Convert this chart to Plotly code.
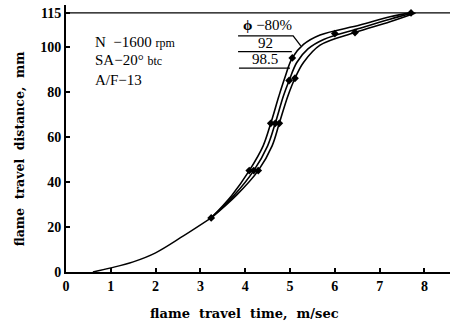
import plotly.graph_objects as go

# Shared early-burn portion of the flame travel curve (time, distance)
common_t = [0.6, 1.0, 1.5, 2.0, 2.62, 3.24]
common_d = [0.0, 1.8, 4.5, 8.5, 16.0, 24.0]

# Per-equivalence-ratio branches after divergence
labels = ["80%", "92", "98.5"]
branch_t = {
    "80%":  [3.24, 3.7, 4.09, 4.4, 4.57, 4.75, 4.88, 5.05, 5.3, 5.67, 6.56, 7.23, 7.7],
    "92":   [3.24, 3.75, 4.19, 4.5, 4.67, 4.85, 4.98, 5.15, 5.4, 5.75, 6.56, 7.23, 7.75],
    "98.5": [3.24, 3.8, 4.29, 4.6, 4.76, 4.95, 5.11, 5.3, 5.67, 6.45, 7.23, 7.8],
}
branch_d = {
    "80%":  [24, 34, 45, 56, 66, 78, 86, 95, 101, 105.2, 109.6, 113.3, 115],
    "92":   [24, 34, 45, 56, 66, 78, 85, 93, 99, 103.2, 108.2, 112.2, 115],
    "98.5": [24, 34, 45, 56, 66, 78, 86, 93, 100.7, 106.3, 111.1, 115],
}

# Measured points shown with symbols
meas_t = [3.24, 4.09, 4.19, 4.29, 4.57, 4.67, 4.76, 5.05, 4.98, 5.11, 6.0, 6.45, 7.7]
meas_d = [24, 45, 45, 45, 66, 66, 66, 95, 85, 86, 105.8, 106.3, 115]

BORE_LIMIT = 115
x_ticks = [0, 1, 2, 3, 4, 5, 6, 7, 8]
y_ticks = [0, 20, 40, 60, 80, 100, 115]

SERIF = "Liberation Serif"
WIDE_SERIF = "DejaVu Serif"
NB2 = "\u00a0\u00a0"

fig = go.Figure()

fig.add_trace(go.Scatter(x=common_t, y=common_d, mode="lines",
                         line=dict(color="black", width=1.4, shape="spline"),
                         showlegend=False, hoverinfo="skip"))
for lab in labels:
    fig.add_trace(go.Scatter(x=branch_t[lab], y=branch_d[lab], mode="lines",
                             line=dict(color="black", width=1.6, shape="spline", smoothing=1.0),
                             showlegend=False, hoverinfo="skip"))

fig.add_trace(go.Scatter(x=[0, 8.57], y=[BORE_LIMIT, BORE_LIMIT], mode="lines",
                         line=dict(color="black", width=1.4),
                         showlegend=False, hoverinfo="skip"))

fig.add_trace(go.Scatter(x=meas_t, y=meas_d, mode="markers",
                         marker=dict(symbol="diamond", size=6, color="black"),
                         showlegend=False, hoverinfo="skip"))

# Leader lines from the equivalence-ratio labels to their curves
leaders = [
    ([3.84, 5.07, 5.24], [104.8, 104.8, 100.4]),
    ([3.84, 5.04], [97.8, 97.8]),
    ([3.86, 5.0], [90.5, 90.5]),
]
for lx, ly in leaders:
    fig.add_trace(go.Scatter(x=lx, y=ly, mode="lines",
                             line=dict(color="black", width=1.3),
                             showlegend=False, hoverinfo="skip"))

annots = [
    dict(x=0.6, y=102.2, text="N" + NB2 + "\u22121600 <span style='font-size:12px'>rpm</span>", xanchor="left"),
    dict(x=0.6, y=94.1, text="SA\u221220\u00b0 <span style='font-size:12px'>btc</span>", xanchor="left"),
    dict(x=0.6, y=85.2, text="A/F\u221213", xanchor="left"),
    dict(x=3.9, y=109.6, text="<b>\u03d5</b> \u221280%", xanchor="left"),
    dict(x=4.45, y=101.8, text="92", xanchor="center"),
    dict(x=4.45, y=94.4, text="98.5", xanchor="center"),
]
for a in annots:
    fig.add_annotation(x=a["x"], y=a["y"], xref="x", yref="y", text=a["text"],
                       xanchor=a["xanchor"], yanchor="middle", showarrow=False,
                       font=dict(family=SERIF, size=15, color="black"))

fig.add_annotation(x=0.466, xref="paper", y=-0.155, yref="paper",
                   text="<b>flame" + NB2 + "travel" + NB2 + "time," + NB2 + "m/sec</b>",
                   showarrow=False, xanchor="center", yanchor="middle",
                   font=dict(family=WIDE_SERIF, size=13, color="black"))
fig.add_annotation(x=-0.122, xref="paper", y=0.46, yref="paper",
                   text="<b>flame" + NB2 + "travel" + NB2 + "distance," + NB2 + "mm</b>",
                   showarrow=False, textangle=-90, xanchor="center", yanchor="middle",
                   font=dict(family=WIDE_SERIF, size=12.5, color="black"))

tick_font = dict(family=SERIF, size=14, color="black", weight="bold")
fig.update_xaxes(range=[0, 8.57], tickvals=x_ticks, ticktext=[str(v) for v in x_ticks],
                 showgrid=False, zeroline=False, showline=True, linecolor="black",
                 linewidth=2, ticks="inside", ticklen=4, tickwidth=1.5, tickcolor="black",
                 tickfont=tick_font)
fig.update_yaxes(range=[0, 118.5], tickvals=y_ticks, ticktext=[str(v) for v in y_ticks],
                 showgrid=False, zeroline=False, showline=True, linecolor="black",
                 linewidth=2, ticks="inside", ticklen=4, tickwidth=1.5, tickcolor="black",
                 tickfont=tick_font)

fig.update_layout(width=456, height=323, margin=dict(l=66, r=6, t=5, b=51),
                  paper_bgcolor="white", plot_bgcolor="white", showlegend=False)

fig.write_html("out.html")
